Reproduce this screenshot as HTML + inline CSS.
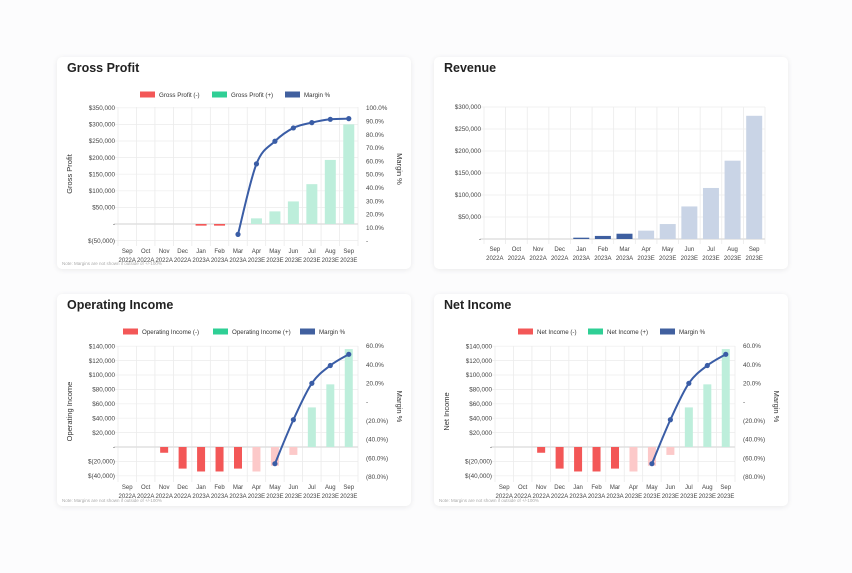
<!DOCTYPE html>
<html><head><meta charset="utf-8">
<style>
body{margin:0;width:852px;height:573px;background:#fcfcfd;font-family:"Liberation Sans",sans-serif;overflow:hidden}
.card{position:absolute;width:354px;height:212px;background:#fff;border-radius:5px;box-shadow:0 1px 6px rgba(0,0,0,.08)}
svg{position:absolute;left:0;top:0}
</style></head><body>
<div class="card" style="left:57px;top:57px"></div>
<div class="card" style="left:434px;top:57px"></div>
<div class="card" style="left:57px;top:294px"></div>
<div class="card" style="left:434px;top:294px"></div>
<svg id="s" width="852" height="573" font-family="Liberation Sans, sans-serif"></svg>
<script>
const S=document.getElementById('s');let h='';
const M=['Sep','Oct','Nov','Dec','Jan','Feb','Mar','Apr','May','Jun','Jul','Aug','Sep'];
const Y=['2022A','2022A','2022A','2022A','2023A','2023A','2023A','2023E','2023E','2023E','2023E','2023E','2023E'];
function t(x,y,s,o){o=o||{};h+=`<text x="${x}" y="${y}" font-size="${o.fs||6.3}" fill="${o.c||'#444'}" text-anchor="${o.a||'start'}" ${o.b?'font-weight="bold"':''} ${o.tr?`transform="${o.tr}"`:''}>${s}</text>`;}
function fmt(v){if(v==0)return '-';let s='$'+Math.abs(v).toLocaleString('en-US');return v<0?'$('+Math.abs(v).toLocaleString('en-US')+')':s;}
function chart(c){
 const L=c.L,R=c.R,T=c.T,B=c.B,n=13,cw=(R-L)/n;
 const yv=v=>c.z-(v)*c.k;
 t(c.cx+10,c.cy+15,c.title,{fs:12.5,b:1,c:'#222'});
 // grid
 for(let i=0;i<=n;i++)h+=`<line x1="${L+i*cw}" y1="${T}" x2="${L+i*cw}" y2="${B+5}" stroke="#e8e8e8" stroke-width="0.7"/>`;
 c.ticks.forEach(v=>{const y=yv(v);h+=`<line x1="${L-4}" y1="${y}" x2="${R}" y2="${y}" stroke="${v==0?'#e0e0e0':'#ececec'}" stroke-width="${v==0?1.5:0.7}"/>`;t(L-3,y+2.2,fmt(v),{a:'end'});});
 if(c.rt)c.rt.forEach(([v,s])=>{const y=c.rz-v*c.rk;t(R+8,y+2.2,s,{});});
 // bars
 c.bars.forEach((b,i)=>{if(!b)return;const [v,col]=b;const x=L+i*cw+(cw-c.bw)/2;const y0=yv(0),y1=yv(v);h+=`<rect x="${x}" y="${Math.min(y0,y1)}" width="${c.bw}" height="${Math.abs(y1-y0)}" fill="${col}"/>`;});
 // line
 if(c.m){let pts=c.m.map((v,i)=>v==null?null:[L+(i+.5)*cw,c.rz-v*c.rk]).filter(p=>p);
  let d='M'+pts.map(p=>p.join(',')).join(' L');
  // smooth
  d='M'+pts[0].join(',');for(let i=1;i<pts.length;i++){const p0=pts[i-2]||pts[i-1],p1=pts[i-1],p2=pts[i],p3=pts[i+1]||p2;d+=` C${p1[0]+(p2[0]-p0[0])/6},${p1[1]+(p2[1]-p0[1])/6} ${p2[0]-(p3[0]-p1[0])/6},${p2[1]-(p3[1]-p1[1])/6} ${p2[0]},${p2[1]}`;}
  h+=`<path d="${d}" fill="none" stroke="#3a5da6" stroke-width="2"/>`;
  pts.forEach(p=>h+=`<circle cx="${p[0]}" cy="${p[1]}" r="2.6" fill="#3a5da6"/>`);}
 for(let i=0;i<n;i++){const x=L+(i+.5)*cw;t(x,B+12,M[i],{a:'middle',fs:6});t(x,B+21,Y[i],{a:'middle',fs:6});}
 if(c.yt)t(0,0,c.yt,{fs:7.5,b:0,c:'#333',a:'middle',tr:`translate(${c.cx+15},${(T+B)/2}) rotate(-90)`});
 if(c.m){t(0,0,'Margin %',{fs:7.5,c:'#333',a:'middle',tr:`translate(${c.cx+340},${(T+B)/2-5}) rotate(90)`});
  t(c.cx+5,c.cy+208,'Note:  Margins are not shown if outside of +/-100%',{fs:4.5,c:'#aaa'});
  const lx=c.lx,ly=c.cy+38;[[c.yt+' (-)','#f35757'],[c.yt+' (+)','#2fcf95'],['Margin %','#41609f']].forEach(([s,col],i)=>{h+=`<rect x="${lx[i]}" y="${ly-3.5}" width="15" height="6" fill="${col}"/>`;t(lx[i]+19,ly+2,s,{fs:6.2,c:'#333'});});}
}
const G='#bdeedb',GR='#2fcf95',RD='#f35757',LR='#fcc9c9';
chart({title:'Gross Profit',cx:57,cy:57,L:118,R:358,T:107,B:241,z:224,k:16.6/50000,bw:11,yt:'Gross Profit',
 ticks:[-50000,0,50000,100000,150000,200000,250000,300000,350000],
 rt:[[0,'-'],[10,'10.0%'],[20,'20.0%'],[30,'30.0%'],[40,'40.0%'],[50,'50.0%'],[60,'60.0%'],[70,'70.0%'],[80,'80.0%'],[90,'90.0%'],[100,'100.0%']],rz:241,rk:1.33,
 bars:[0,0,0,0,[-5000,RD],[-5000,RD],0,[17000,G],[38000,G],[68000,G],[120000,G],[193000,G],[300000,G]],
 m:[null,null,null,null,null,null,5,58,75,85,89,91.5,92],lx:[140,212,285]});
chart({title:'Revenue',cx:434,cy:57,L:484,R:765,T:107,B:239,z:239,k:22/50000,bw:16,
 ticks:[0,50000,100000,150000,200000,250000,300000],
 bars:[0,0,0,0,[3000,'#3e5fa0'],[7000,'#3e5fa0'],[12000,'#3e5fa0'],[19000,'#c9d4e6'],[34000,'#c9d4e6'],[74000,'#c9d4e6'],[116000,'#c9d4e6'],[178000,'#c9d4e6'],[280000,'#c9d4e6']]});
[['Operating Income',57,[123,213,300]],['Net Income',434,[518,588,660]]].forEach(([nm,cx,lx])=>{
 chart({title:nm,cx:cx,cy:294,L:cx+61,R:cx+301,T:346,B:477,z:447,k:14.4/20000,bw:8,yt:nm,
 ticks:[-40000,-20000,0,20000,40000,60000,80000,100000,120000,140000],
 rt:[[-80,'(80.0%)'],[-60,'(60.0%)'],[-40,'(40.0%)'],[-20,'(20.0%)'],[0,'-'],[20,'20.0%'],[40,'40.0%'],[60,'60.0%']],rz:402,rk:0.935,
 bars:[0,0,[-8000,RD],[-30000,RD],[-34000,RD],[-34000,RD],[-30000,RD],[-34000,LR],[-26000,LR],[-11000,LR],[55000,G],[87000,G],[136000,G]],
 m:[null,null,null,null,null,null,null,null,-66,-19,20,39,51],lx:lx});
});
S.innerHTML=h;
</script>
</body></html>
